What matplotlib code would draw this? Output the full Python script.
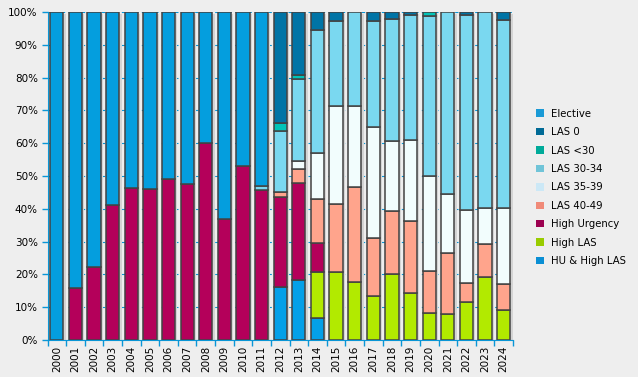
import matplotlib.pyplot as plt
import numpy as np
from matplotlib.patches import Patch

years = [str(y) for y in range(2000, 2025)]

# stacked from the bottom up (percent)
hu_high_las = [0, 0, 0, 0, 0, 0, 0, 0, 0, 0, 0, 0, 16.1, 18.2, 6.7,
               0, 0, 0, 0, 0, 0, 0, 0, 0, 0]
high_las = [0, 0, 0, 0, 0, 0, 0, 0, 0, 0, 0, 0, 0, 0, 13.9,
            20.6, 17.7, 13.4, 20.1, 14.3, 8.2, 7.9, 11.6, 19.2, 9.1]
high_urgency = [0, 16.0, 22.2, 41.3, 46.3, 46.0, 49.1, 47.7, 60.1, 36.9, 53.0, 45.7, 27.5, 29.8, 9.0,
                0, 0, 0, 0, 0, 0, 0, 0, 0, 0]
las_40_49 = [0, 0, 0, 0, 0, 0, 0, 0, 0, 0, 0, 0, 1.5, 4.1, 13.4,
             20.9, 28.9, 17.7, 19.2, 22.0, 12.8, 18.6, 5.8, 10.1, 8.0]
las_35_39 = [0, 0, 0, 0, 0, 0, 0, 0, 0, 0, 0, 0, 0, 2.4, 14.0,
             29.8, 24.7, 33.8, 21.4, 24.7, 29.0, 18.0, 22.2, 10.9, 23.1]
las_30_34 = [0, 0, 0, 0, 0, 0, 0, 0, 0, 0, 0, 1.3, 18.5, 25.0, 37.4,
             26.0, 28.7, 32.4, 37.2, 38.1, 48.8, 55.5, 59.5, 59.8, 57.4]
las_lt30 = [0, 0, 0, 0, 0, 0, 0, 0, 0, 0, 0, 0, 2.5, 1.2, 0,
            0, 0, 0, 0, 0, 1.2, 0, 0, 0, 0]
las_0 = [0, 0, 0, 0, 0, 0, 0, 0, 0, 0, 0, 0, 33.9, 19.3, 5.6,
         2.7, 0, 2.7, 2.1, 0.9, 0, 0, 0.9, 0, 2.4]
elective = [100, 84.0, 77.8, 58.7, 53.7, 54.0, 50.9, 52.3, 39.9, 63.1, 47.0, 53.0, 0, 0, 0,
            0, 0, 0, 0, 0, 0, 0, 0, 0, 0]

series = [
    ("HU & High LAS", hu_high_las, "#04a0e8", "#0a8fd4"),
    ("High LAS", high_las, "#b2ea00", "#99cc00"),
    ("High Urgency", high_urgency, "#b4005a", "#9c0050"),
    ("LAS 40-49", las_40_49, "#ffa48c", "#f08a78"),
    ("LAS 35-39", las_35_39, "#f2fdfd", "#cce8f6"),
    ("LAS 30-34", las_30_34, "#7ad8f0", "#70c4d8"),
    ("LAS <30", las_lt30, "#00c4b8", "#00aa99"),
    ("LAS 0", las_0, "#0074a6", "#006a96"),
    ("Elective", elective, "#049ede", "#1a9ad6"),
]

bg = "#eeeeee"
blue = "#0a96d6"

fig = plt.figure(figsize=(6.38, 3.77), dpi=100, facecolor=bg)
ax = fig.add_axes([47.5 / 638, 37 / 377, 465.5 / 638, 328 / 377])
ax.set_facecolor(bg)

x = np.arange(len(years))
w = 0.71

# soft shadow behind the bars
ax.bar(x + 0.12, 100, width=w, bottom=-0.6, color="#d4d4d4", zorder=1.5, linewidth=0)

bottom = np.zeros(len(years))
for name, vals, col, lcol in series:
    v = np.array(vals, dtype=float)
    mask = v > 0
    ax.bar(x[mask], v[mask], width=w, bottom=bottom[mask], color=col,
           edgecolor="#424242", linewidth=1.1, zorder=2)
    bottom += v

ax.set_xlim(-0.5, len(years) - 0.5)
ax.set_ylim(0, 100)

ax.set_yticks(np.arange(0, 101, 10))
ax.set_yticklabels([f"{t}%" for t in range(0, 101, 10)], fontsize=7.5)
ax.set_xticks(x)
ax.set_xticklabels(years, rotation=90, fontsize=7.5)
ax.set_xticks(np.arange(-0.5, len(years), 1), minor=True)
ax.tick_params(axis="x", which="major", length=0, pad=4)
ax.tick_params(axis="x", which="minor", length=4, color=blue, width=1)
ax.tick_params(axis="y", length=4, color=blue, width=1, pad=3)

ax.grid(axis="y", color=blue, linestyle=(0, (3, 3)), linewidth=0.8, zorder=1)
ax.set_axisbelow(True)

for s in ["top", "right"]:
    ax.spines[s].set_visible(False)
ax.spines["left"].set_color(blue)
ax.spines["bottom"].set_color(blue)

handles = [Patch(facecolor=lc, edgecolor="none", label=n) for n, v, c, lc in series[::-1]]
fig.legend(handles=handles, loc="center left", bbox_to_anchor=(536 / 638, 0.503),
           frameon=False, fontsize=7.3, handlelength=0.75, handleheight=0.75,
           labelspacing=0.83, handletextpad=0.7, borderpad=0, borderaxespad=0)

fig.savefig("out.png", dpi=100, facecolor=bg)
